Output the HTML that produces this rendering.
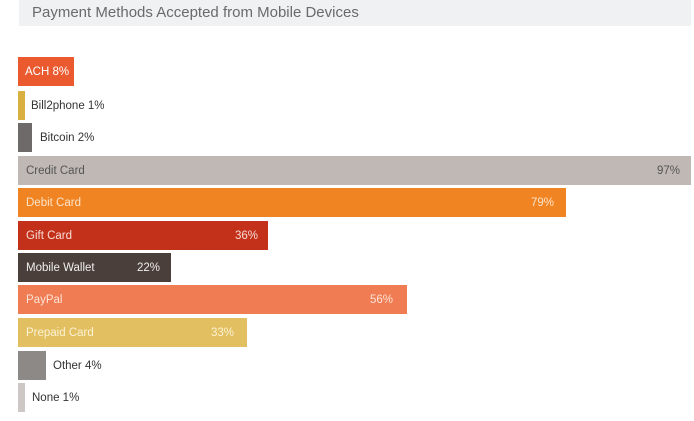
<!DOCTYPE html>
<html><head><meta charset="utf-8"><style>
body{margin:0;width:694px;height:421px;background:#fff;position:relative;overflow:hidden;font-family:"Liberation Sans",sans-serif}
.t{position:absolute;left:19px;top:0;width:672px;height:26px;background:#f0f1f3;color:#6a6a6a;font-size:15px;line-height:26px;padding-left:13px;box-sizing:border-box}
.b{position:absolute;left:18px;height:29px}
.l{position:absolute;font-size:11.5px;line-height:31px;white-space:nowrap}
</style></head><body>
<div class="t">Payment Methods Accepted from Mobile Devices</div>

<div class="b" style="top:57px;width:56px;background:#ea5a2e"></div>
<div class="l" style="top:57px;left:25px;color:#fff">ACH 8%</div>

<div class="b" style="top:91px;width:7px;background:#d9b140"></div>
<div class="l" style="top:91px;left:31px;color:#333">Bill2phone 1%</div>

<div class="b" style="top:123px;width:14px;background:#6e6a69"></div>
<div class="l" style="top:123px;left:40px;color:#333">Bitcoin 2%</div>

<div class="b" style="top:156px;width:673px;background:#bfb8b5"></div>
<div class="l" style="top:156px;left:26px;color:#555">Credit Card</div>
<div class="l" style="top:156px;left:657px;color:#555">97%</div>

<div class="b" style="top:188px;width:548px;background:#f08423"></div>
<div class="l" style="top:188px;left:26px;color:#fbe3c8">Debit Card</div>
<div class="l" style="top:188px;left:531px;color:#fbe3c8">79%</div>

<div class="b" style="top:221px;width:250px;background:#c4311b"></div>
<div class="l" style="top:221px;left:26px;color:#f6dcd6">Gift Card</div>
<div class="l" style="top:221px;left:235px;color:#f6dcd6">36%</div>

<div class="b" style="top:253px;width:153px;background:#4a3f3a"></div>
<div class="l" style="top:253px;left:26px;color:#eee">Mobile Wallet</div>
<div class="l" style="top:253px;left:137px;color:#eee">22%</div>

<div class="b" style="top:285px;width:389px;background:#ef7c52"></div>
<div class="l" style="top:285px;left:26px;color:#fde2d6">PayPal</div>
<div class="l" style="top:285px;left:370px;color:#fde2d6">56%</div>

<div class="b" style="top:318px;width:229px;background:#e2c061"></div>
<div class="l" style="top:318px;left:26px;color:#fbf1d4">Prepaid Card</div>
<div class="l" style="top:318px;left:211px;color:#fbf1d4">33%</div>

<div class="b" style="top:351px;width:28px;background:#8c8987"></div>
<div class="l" style="top:351px;left:53px;color:#333">Other 4%</div>

<div class="b" style="top:383px;width:7px;background:#cdc8c6"></div>
<div class="l" style="top:383px;left:32px;color:#333">None 1%</div>
</body></html>
